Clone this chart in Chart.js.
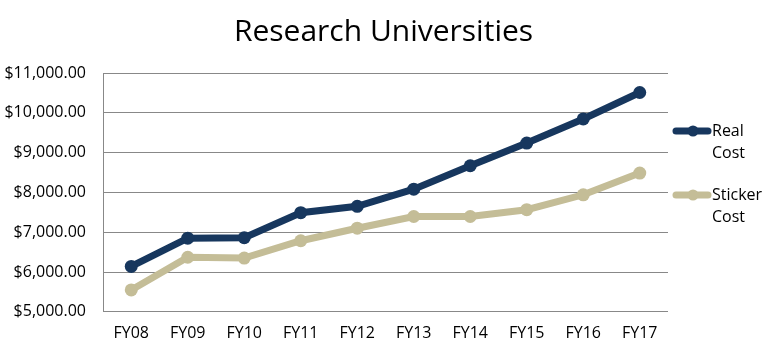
<!DOCTYPE html>
<html>
<head>
<meta charset="utf-8">
<script src="https://cdn.jsdelivr.net/npm/chart.js@4/dist/chart.umd.min.js"></script>
<style>
  html, body { margin: 0; padding: 0; background: #fff; }
  #wrap { width: 767px; height: 353px; }
</style>
</head>
<body>
<div id="wrap"><canvas id="chart"></canvas></div>
<script>
const years = ['FY08', 'FY09', 'FY10', 'FY11', 'FY12', 'FY13', 'FY14', 'FY15', 'FY16', 'FY17'];
const realCost = [6140, 6850, 6860, 7490, 7650, 8080, 8670, 9240, 9845, 10510];
const stickerCost = [5550, 6370, 6350, 6785, 7100, 7395, 7395, 7565, 7940, 8485];
const seriesNames = ['Real Cost', 'Sticker Cost'];
const chartTitle = 'Research Universities';

const NAVY = '#17375E';
const TAN = '#C4BD97';
const FONT = "'Open Sans', sans-serif";

// title centred on the whole canvas + legend on the right with wrapped labels
const decor = {
  id: 'decor',
  afterDraw(chart) {
    const ctx = chart.ctx;
    ctx.save();
    ctx.fillStyle = '#000';
    ctx.font = '30px ' + FONT;
    ctx.textAlign = 'center';
    ctx.textBaseline = 'middle';
    ctx.fillText(chartTitle, chart.width / 2, 32);

    const x0 = chart.chartArea.right + 8;
    const rows = [131, 195];
    chart.data.datasets.forEach((ds, i) => {
      const y = rows[i];
      ctx.strokeStyle = ds.borderColor;
      ctx.lineWidth = 7;
      ctx.lineCap = 'round';
      ctx.beginPath();
      ctx.moveTo(x0, y);
      ctx.lineTo(x0 + 32, y);
      ctx.stroke();
      ctx.fillStyle = ds.borderColor;
      ctx.beginPath();
      ctx.arc(x0 + 17, y, 5.5, 0, Math.PI * 2);
      ctx.fill();
      ctx.fillStyle = '#000';
      ctx.font = '16px ' + FONT;
      ctx.textAlign = 'left';
      ctx.textBaseline = 'middle';
      ds.label.split(' ').forEach((w, k) => {
        ctx.fillText(w, x0 + 36, y + k * 22);
      });
    });
    ctx.restore();
  }
};

new Chart(document.getElementById('chart'), {
  type: 'line',
  data: {
    labels: years,
    datasets: [
      {
        label: seriesNames[0],
        data: realCost,
        borderColor: NAVY,
        backgroundColor: NAVY,
        borderWidth: 7,
        pointRadius: 6.5,
        pointHoverRadius: 6.5,
        pointBorderWidth: 0,
        tension: 0,
      },
      {
        label: seriesNames[1],
        data: stickerCost,
        borderColor: TAN,
        backgroundColor: TAN,
        borderWidth: 7,
        pointRadius: 6.5,
        pointHoverRadius: 6.5,
        pointBorderWidth: 0,
        tension: 0,
      },
    ],
  },
  options: {
    responsive: true,
    maintainAspectRatio: false,
    animation: false,
    layout: { padding: { left: 0, right: 99, top: 73, bottom: -2 } },
    plugins: {
      legend: { display: false },
      tooltip: { enabled: false },
      title: { display: false },
    },
    scales: {
      x: {
        offset: true,
        grid: { display: false, drawTicks: false },
        border: { display: false },
        ticks: { color: '#000', font: { family: FONT, size: 16 }, padding: 12 },
      },
      y: {
        min: 5000,
        max: 11000,
        afterFit(scale) { scale.width = 103; },
        grid: { color: '#888', lineWidth: 1, drawTicks: false },
        border: { display: true, color: '#888', width: 1 },
        ticks: {
          stepSize: 1000,
          color: '#000',
          padding: 17,
          font: { family: FONT, size: 16 },
          callback: v => '$' + v.toLocaleString('en-US', { minimumFractionDigits: 2, maximumFractionDigits: 2 }),
        },
      },
    },
  },
  plugins: [decor],
});
</script>
</body>
</html>
